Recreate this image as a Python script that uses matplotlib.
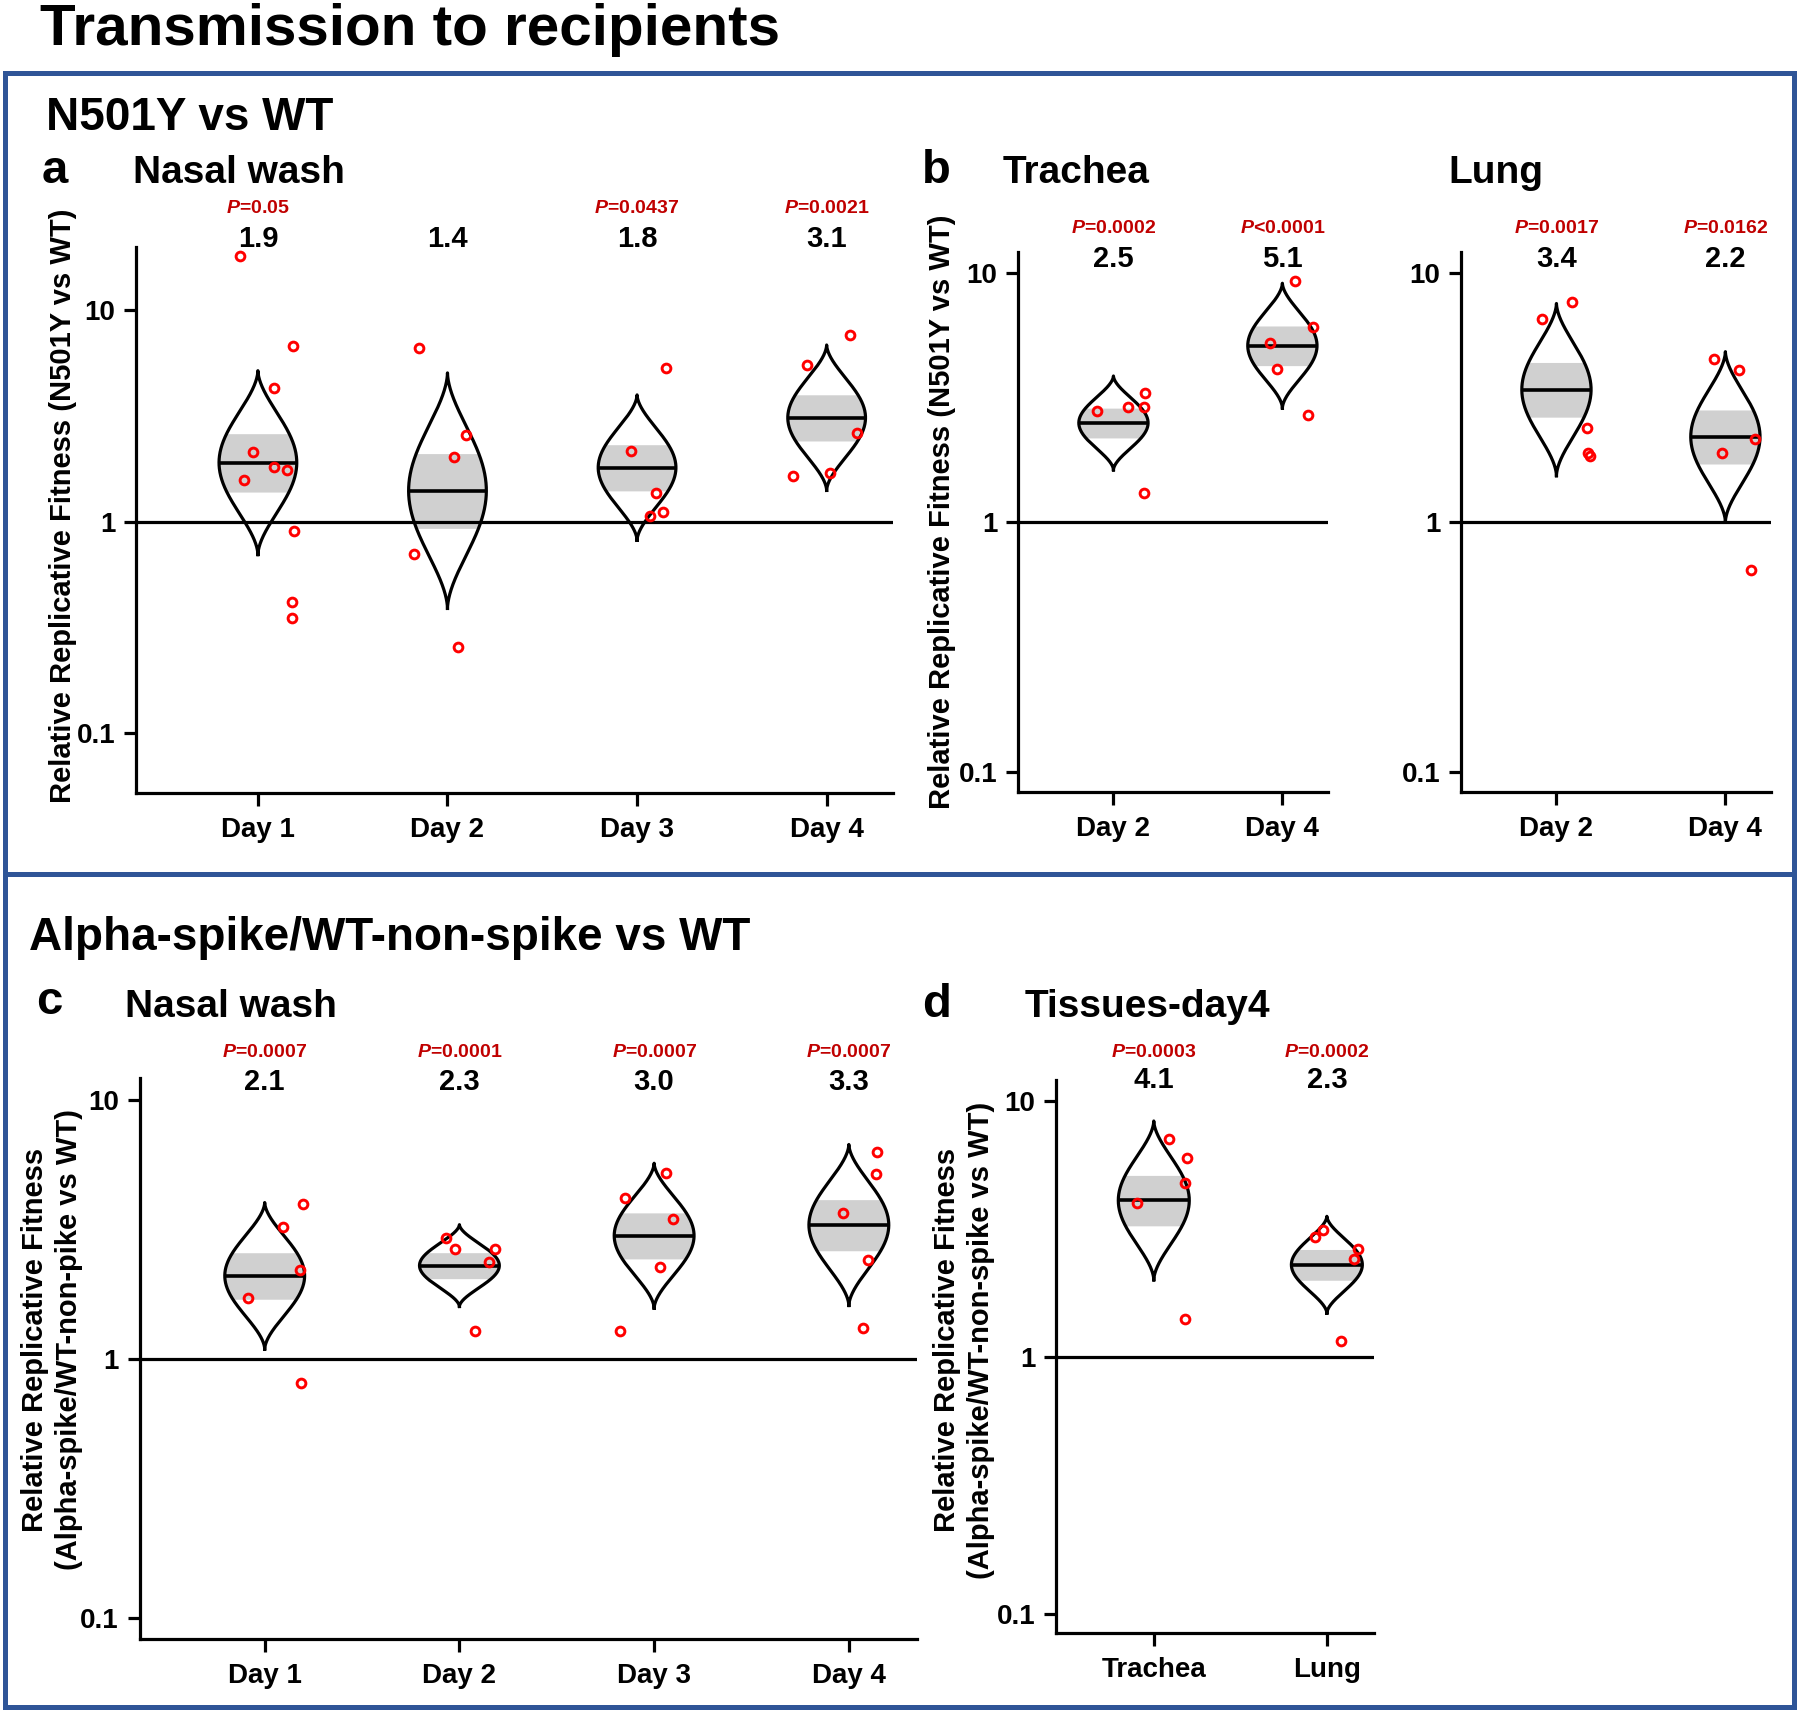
import numpy as np
import matplotlib
matplotlib.use("Agg")
import matplotlib.pyplot as plt
from matplotlib import transforms
from matplotlib.patches import Rectangle

plt.rcParams['font.family'] = ['Liberation Sans', 'DejaVu Sans']
plt.rcParams['font.weight'] = 'bold'
plt.rcParams['mathtext.fontset'] = 'custom'
plt.rcParams['mathtext.it'] = 'Liberation Sans:italic:bold'
plt.rcParams['mathtext.rm'] = 'Liberation Sans:bold'

# ---------------- data ----------------
days4 = ["Day 1", "Day 2", "Day 3", "Day 4"]
days2 = ["Day 2", "Day 4"]
tissues = ["Trachea", "Lung"]

# a: N501Y vs WT, nasal wash
a_ratio = [1.9, 1.4, 1.8, 3.1]
a_pval = ["=0.05", None, "=0.0437", "=0.0021"]
a_spread = [0.435, 0.557, 0.344, 0.344]      # violin half length, log10 units
a_points = [
    [18.0, 6.8, 4.27, 2.13, 1.81, 1.76, 1.58, 0.906, 0.415, 0.348],
    [6.6, 2.56, 2.03, 0.70, 0.256],
    [5.3, 2.15, 1.36, 1.11, 1.06],
    [7.6, 5.5, 2.61, 1.69, 1.65],
]
a_jitter = [
    [-0.095, 0.185, 0.084, -0.026, 0.084, 0.153, -0.074, 0.19, 0.18, 0.18],
    [-0.148, 0.10, 0.037, -0.179, 0.058],
    [0.153, -0.032, 0.10, 0.137, 0.069],
    [0.121, -0.106, 0.158, 0.016, -0.179],
]

# b: N501Y vs WT, trachea
bt_ratio = [2.5, 5.1]
bt_pval = ["=0.0002", "<0.0001"]
bt_spread = [0.188, 0.25]
bt_points = [[3.29, 2.89, 2.89, 2.79, 1.31], [9.25, 6.07, 5.23, 4.13, 2.70]]
bt_jitter = [[0.187, 0.086, 0.181, -0.098, 0.181], [0.077, 0.184, -0.071, -0.030, 0.152]]

# b: N501Y vs WT, lung
bl_ratio = [3.4, 2.2]
bl_pval = ["=0.0017", "=0.0162"]
bl_spread = [0.345, 0.341]
bl_points = [[7.64, 6.55, 2.39, 1.90, 1.84], [4.49, 4.07, 2.15, 1.89, 0.642]]
bl_jitter = [[0.092, -0.088, 0.183, 0.189, 0.20], [-0.068, 0.080, 0.174, -0.021, 0.150]]

# c: Alpha-spike/WT-non-spike vs WT, nasal wash
c_ratio = [2.1, 2.3, 3.0, 3.3]
c_pval = ["=0.0007", "=0.0001", "=0.0007", "=0.0007"]
c_spread = [0.283, 0.158, 0.28, 0.311]
c_points = [
    [3.97, 3.25, 2.21, 1.73, 0.81],
    [2.95, 2.67, 2.67, 2.38, 1.28],
    [5.23, 4.18, 3.48, 2.28, 1.28],
    [6.33, 5.19, 3.66, 2.42, 1.32],
]
c_jitter = [
    [0.198, 0.094, 0.183, -0.088, 0.185],
    [-0.067, 0.185, -0.021, 0.154, 0.082],
    [0.062, -0.151, 0.097, 0.031, -0.175],
    [0.146, 0.139, -0.031, 0.100, 0.074],
]

# d: Alpha-spike/WT-non-spike vs WT, tissues day 4
d_ratio = [4.1, 2.3]
d_pval = ["=0.0003", "=0.0002"]
d_spread = [0.31, 0.189]
d_points = [[7.15, 5.98, 4.78, 3.99, 1.41], [3.14, 2.96, 2.66, 2.43, 1.16]]
d_jitter = [[0.085, 0.191, 0.180, -0.099, 0.180], [-0.020, -0.070, 0.180, 0.157, 0.084]]

# ---------------- figure ----------------
W, H = 1800, 1713
fig = plt.figure(figsize=(W / 100, H / 100), dpi=100)
BLUE = '#2f5597'
RED = '#c00000'


def px_axes(x0, y0, x1, y1):
    return fig.add_axes([x0 / W, 1 - y1 / H, (x1 - x0) / W, (y1 - y0) / H])


def ftext(x, y, s, size, **kw):
    fig.text(x / W, 1 - y / H, s, fontsize=size, fontweight='bold', **kw)


def violin(ax, x, med, half, width=0.205):
    t = np.linspace(-1, 1, 401)
    w = width * np.cos(np.pi * t / 2).clip(0) ** 1.7
    y = 10 ** (np.log10(med) + t * half)
    inner = np.abs(t) <= 0.32
    ax.fill_betweenx(y[inner], x - w[inner], x + w[inner], color='#d0d0d0', lw=0, zorder=2)
    ax.plot(np.r_[x - w, (x + w)[::-1]], np.r_[y, y[::-1]], color='k', lw=2.3, zorder=3)
    ax.plot([x - width, x + width], [med, med], color='k', lw=2.6, zorder=3, solid_capstyle='butt')


def panel(rect, xlim, ylim, labels, ratio, pval, spread, points, jitter, y_p, y_r):
    ax = px_axes(*rect)
    ax.set_yscale('log')
    ax.set_xlim(*xlim)
    ax.set_ylim(*ylim)
    for s in ['top', 'right']:
        ax.spines[s].set_visible(False)
    for s in ['left', 'bottom']:
        ax.spines[s].set_linewidth(2.3)
    ax.axhline(1, color='k', lw=2.3, zorder=2.5)
    xs = np.arange(1, len(labels) + 1)
    tr = transforms.blended_transform_factory(ax.transData, fig.transFigure)
    for i, x in enumerate(xs):
        violin(ax, x, ratio[i], spread[i])
        ax.plot(x + np.array(jitter[i]), points[i], 'o', mfc='none', mec='#ff0000',
                ms=6.3, mew=2.1, zorder=4, clip_on=False)
        if pval[i]:
            ax.text(x, 1 - y_p / H, r"$P$" + pval[i], transform=tr, ha='center',
                    va='baseline', color=RED, fontsize=14, fontweight='bold')
        ax.text(x, 1 - y_r / H, f"{ratio[i]:.1f}", transform=tr, ha='center',
                va='baseline', color='k', fontsize=21, fontweight='bold')
    ax.set_xticks(xs)
    ax.set_xticklabels(labels, fontsize=20, fontweight='bold')
    ax.set_yticks([0.1, 1, 10])
    ax.set_yticklabels(["0.1", "1", "10"], fontsize=20, fontweight='bold')
    ax.yaxis.set_minor_locator(matplotlib.ticker.NullLocator())
    ax.tick_params(axis='both', direction='out', length=9, width=2.3, pad=6, colors='k')
    ax.tick_params(axis='x', pad=8)
    return ax


panel((136, 247, 893, 793), (0.357, 4.35), (0.052, 19.9), days4,
      a_ratio, a_pval, a_spread, a_points, a_jitter, 213, 247)
panel((1018, 252, 1328, 792), (0.435, 2.27), (0.083, 12.1), days2,
      bt_ratio, bt_pval, bt_spread, bt_points, bt_jitter, 233, 267)
panel((1461, 252, 1771, 792), (0.435, 2.27), (0.083, 12.1), days2,
      bl_ratio, bl_pval, bl_spread, bl_points, bl_jitter, 233, 267)
panel((139.5, 1078, 917, 1639), (0.357, 4.35), (0.083, 12.2), days4,
      c_ratio, c_pval, c_spread, c_points, c_jitter, 1057, 1090)
panel((1056, 1080, 1373.6, 1633), (0.435, 2.27), (0.084, 12.1), tissues,
      d_ratio, d_pval, d_spread, d_points, d_jitter, 1057, 1088)

# titles and panel letters
ftext(40, 45, "Transmission to recipients", 42, ha='left', va='baseline')
ftext(46, 130, "N501Y vs WT", 33, ha='left', va='baseline')
ftext(42, 183, "a", 34, ha='left', va='baseline')
ftext(133, 183, "Nasal wash", 28, ha='left', va='baseline')
ftext(922, 183, "b", 34, ha='left', va='baseline')
ftext(1003, 183, "Trachea", 28, ha='left', va='baseline')
ftext(1448, 183, "Lung", 28, ha='left', va='baseline')
ftext(29, 950, "Alpha-spike/WT-non-spike vs WT", 33, ha='left', va='baseline')
ftext(36, 1014, "c", 34, ha='left', va='baseline')
ftext(125, 1017, "Nasal wash", 28, ha='left', va='baseline')
ftext(922, 1017, "d", 34, ha='left', va='baseline')
ftext(1025, 1017, "Tissues-day4", 28, ha='left', va='baseline')

# y labels
ftext(63, 506, "Relative Replicative Fitness (N501Y vs WT)", 21,
      rotation=90, ha='center', va='center')
ftext(942, 512, "Relative Replicative Fitness (N501Y vs WT)", 21,
      rotation=90, ha='center', va='center')
ftext(52, 1340, "Relative Replicative Fitness\n(Alpha-spike/WT-non-pike vs WT)", 21,
      rotation=90, ha='center', va='center', linespacing=1.25, multialignment='center')
ftext(964, 1340, "Relative Replicative Fitness\n(Alpha-spike/WT-non-spike vs WT)", 21,
      rotation=90, ha='center', va='center', linespacing=1.25, multialignment='center')

# blue frames
for y0, y1 in [(72.5, 874), (874, 1707)]:
    fig.add_artist(Rectangle((5 / W, 1 - y1 / H), (1794 - 5) / W, (y1 - y0) / H,
                             transform=fig.transFigure, fill=False, ec=BLUE, lw=3.6))

fig.savefig("out.png", dpi=100)
